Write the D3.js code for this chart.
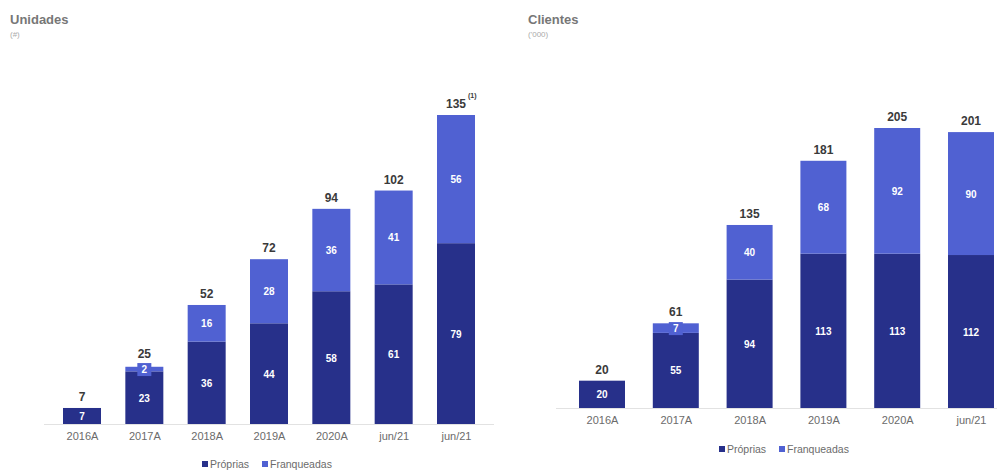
<!DOCTYPE html>
<html>
<head>
<meta charset="utf-8">
<script src="https://cdn.jsdelivr.net/npm/d3@7"></script>
<style>
  body { margin: 0; background: #fff; }
  svg { display: block; font-family: "Liberation Sans", Arial, sans-serif; }
</style>
</head>
<body>
<svg width="997" height="470"></svg>
<script>
// --- data ---
var unitCategories = ["2016A", "2017A", "2018A", "2019A", "2020A", "jun/21", "jun/21"];
var unitProprias = [7, 23, 36, 44, 58, 61, 79];
var unitFranqueadas = [0, 2, 16, 28, 36, 41, 56];
var unitTotals = ["7", "25", "52", "72", "94", "102", "135"];

var clientCategories = ["2016A", "2017A", "2018A", "2019A", "2020A", "jun/21"];
var clientProprias = [20, 55, 94, 113, 113, 112];
var clientFranqueadas = [0, 7, 40, 68, 92, 90];
var clientTotals = ["20", "61", "135", "181", "205", "201"];

var darkColor = "#27308a";
var lightColor = "#5061d2";

var svg = d3.select("svg");

drawPanel = function(opts){
    var n = opts.cats.length;
    var x = d3.scalePoint()
        .domain(d3.range(n))
        .range([opts.x0, opts.x1]);
    var y = d3.scaleLinear()
        .domain([0, opts.max])
        .range([opts.base, opts.top]);
    var bw = opts.barWidth;

    var g = svg.append("g");

    // title
    g.append("text")
        .attr("x", opts.titleX).attr("y", 24)
        .attr("fill", "#777")
        .style("font-size", "13px")
        .style("font-weight", "bold")
        .text(opts.title);
    g.append("text")
        .attr("x", opts.titleX).attr("y", 37)
        .attr("fill", "#aaa")
        .style("font-size", "8px")
        .text(opts.subtitle);

    // baseline + category labels
    var axis = d3.axisBottom(x)
        .tickSize(0)
        .tickPadding(8)
        .tickFormat(function(i){ return opts.cats[i]; });
    var ax = g.append("g")
        .attr("transform", "translate(0," + opts.base + ")")
        .call(axis);
    ax.select(".domain")
        .attr("d", "M" + (opts.x0 - bw) + ",0.5H" + (opts.x1 + bw))
        .attr("stroke", "#e2e2e2");
    ax.selectAll("text")
        .attr("fill", "#6b6b6b")
        .style("font-size", "11px")
        .style("font-family", "'Liberation Sans', Arial, sans-serif");

    // proprias bars
    g.selectAll(null)
        .data(opts.prop)
        .enter()
        .append("rect")
        .attr("x", function(d, i){ return x(i) - bw/2; })
        .attr("y", function(d){ return y(d); })
        .attr("width", bw)
        .attr("height", function(d){ return opts.base - y(d); })
        .attr("fill", darkColor);

    // franqueadas bars
    g.selectAll(null)
        .data(opts.fran)
        .enter()
        .append("rect")
        .attr("x", function(d, i){ return x(i) - bw/2; })
        .attr("y", function(d, i){ return y(opts.prop[i] + d); })
        .attr("width", bw)
        .attr("height", function(d, i){ return y(opts.prop[i]) - y(opts.prop[i] + d); })
        .attr("fill", lightColor);

    // small label boxes for thin franqueadas segments
    opts.fran.forEach(function(d, i){
        if (d > 0 && (y(opts.prop[i]) - y(opts.prop[i] + d)) < 14) {
            var cy = (y(opts.prop[i]) + y(opts.prop[i] + d)) / 2;
            g.append("rect")
                .attr("x", x(i) - 7).attr("y", cy - 6)
                .attr("width", 14).attr("height", 13)
                .attr("fill", lightColor);
        }
    });

    // inside labels
    g.selectAll(null)
        .data(opts.prop)
        .enter()
        .append("text")
        .attr("x", function(d, i){ return x(i); })
        .attr("y", function(d){ return (opts.base + y(d)) / 2 + 4; })
        .attr("text-anchor", "middle")
        .attr("fill", "white")
        .style("font-size", "10px")
        .style("font-weight", "bold")
        .text(function(d){ return d; });

    g.selectAll(null)
        .data(opts.fran)
        .enter()
        .append("text")
        .attr("x", function(d, i){ return x(i); })
        .attr("y", function(d, i){ return (y(opts.prop[i]) + y(opts.prop[i] + d)) / 2 + 4; })
        .attr("text-anchor", "middle")
        .attr("fill", "white")
        .style("font-size", "10px")
        .style("font-weight", "bold")
        .text(function(d){ return d > 0 ? d : ""; });

    // totals
    g.selectAll(null)
        .data(opts.totals)
        .enter()
        .append("text")
        .attr("x", function(d, i){ return x(i); })
        .attr("y", function(d, i){ return y(opts.prop[i] + opts.fran[i]) - (opts.fran[i] > 0 && opts.fran[i] < 5 ? 9 : 7); })
        .attr("text-anchor", "middle")
        .attr("fill", "#3a3a3a")
        .style("font-size", "12px")
        .style("font-weight", "bold")
        .text(function(d){ return d; });

    if (opts.footnote) {
        var last = n - 1;
        g.append("text")
            .attr("x", x(last) + 12)
            .attr("y", y(opts.prop[last] + opts.fran[last]) - 17)
            .attr("fill", "#3a3a3a")
            .style("font-size", "7px")
            .style("font-weight", "bold")
            .text(opts.footnote);
    }

    // legend
    var lg = g.append("g").attr("transform", "translate(" + opts.legendX + "," + opts.legendY + ")");
    var items = [["Próprias", darkColor, 0], ["Franqueadas", lightColor, 60]];
    items.forEach(function(it){
        lg.append("rect")
            .attr("x", it[2]).attr("y", -3)
            .attr("width", 6).attr("height", 6)
            .attr("fill", it[1]);
        lg.append("text")
            .attr("x", it[2] + 8).attr("y", 4)
            .attr("fill", "#6b6b6b")
            .style("font-size", "10.5px")
            .text(it[0]);
    });
}

drawPanel({
    cats: unitCategories, prop: unitProprias, fran: unitFranqueadas, totals: unitTotals,
    x0: 82, x1: 456, base: 424, top: 115, max: 135, barWidth: 38,
    title: "Unidades", subtitle: "(#)", titleX: 10,
    legendX: 202, legendY: 464, footnote: "(1)"
});

drawPanel({
    cats: clientCategories, prop: clientProprias, fran: clientFranqueadas, totals: clientTotals,
    x0: 602, x1: 971, base: 408, top: 128, max: 205, barWidth: 46,
    title: "Clientes", subtitle: "('000)", titleX: 528,
    legendX: 719, legendY: 449
});
</script>
</body>
</html>
